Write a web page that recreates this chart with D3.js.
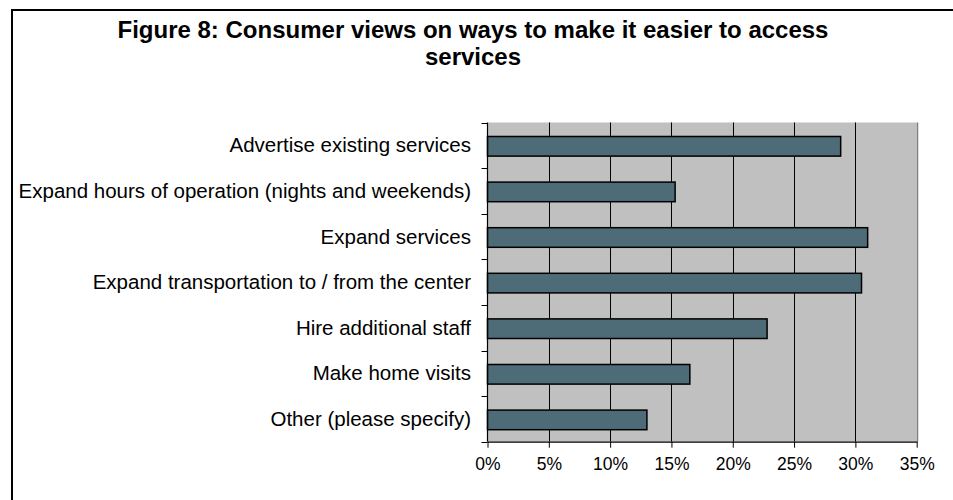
<!DOCTYPE html>
<html>
<head>
<meta charset="utf-8">
<script src="https://cdn.jsdelivr.net/npm/d3@7"></script>
<style>
  html, body { margin: 0; padding: 0; background: #ffffff; }
  svg { display: block; font-family: "Liberation Sans", Arial, sans-serif; }
</style>
</head>
<body>
<svg id="chart" width="953" height="500"></svg>
<script>
// Survey responses: share of consumers choosing each option
const categories = [
  "Advertise existing services",
  "Expand hours of operation (nights and weekends)",
  "Expand services",
  "Expand transportation to / from the center",
  "Hire additional staff",
  "Make home visits",
  "Other (please specify)"
];
const shares = [0.288, 0.153, 0.310, 0.305, 0.228, 0.165, 0.130];
const tickValues = [0, 0.05, 0.10, 0.15, 0.20, 0.25, 0.30, 0.35];
const titleLines = ["Figure 8: Consumer views on ways to make it easier to access", "services"];

const svg = d3.select("#chart");

// outer chart frame
svg.append("rect")
  .attr("x", 12).attr("y", 10)
  .attr("width", 960).attr("height", 520)
  .attr("fill", "#ffffff")
  .attr("stroke", "#000000")
  .attr("stroke-width", 2);

const plot = { left: 487.5, right: 916.7, top: 122.5, bottom: 441.7 };

const x = d3.scaleLinear().domain([0, 0.35]).range([plot.left, plot.right]);
const y = d3.scaleBand().domain(categories).range([plot.top, plot.bottom])
  .paddingInner(0.57).paddingOuter(0.285);
const yTicks = d3.scaleBand().domain(categories).range([plot.top, plot.bottom]);

// plot background
svg.append("rect")
  .attr("x", plot.left).attr("y", plot.top)
  .attr("width", plot.right - plot.left).attr("height", plot.bottom - plot.top)
  .attr("fill", "#c0c0c0");

// vertical gridlines
svg.append("g")
  .selectAll("line")
  .data(tickValues.slice(1, -1))
  .join("line")
  .attr("x1", d => Math.round(x(d)) + 0.5).attr("x2", d => Math.round(x(d)) + 0.5)
  .attr("y1", plot.top).attr("y2", plot.bottom)
  .attr("stroke", "#000000")
  .attr("stroke-width", 1);

// right edge of the plot area
svg.append("line")
  .attr("x1", Math.round(plot.right) + 0.5).attr("x2", Math.round(plot.right) + 0.5)
  .attr("y1", plot.top).attr("y2", plot.bottom)
  .attr("stroke", "#808080").attr("stroke-width", 1.5);

// bars
svg.append("g")
  .selectAll("rect")
  .data(categories)
  .join("rect")
  .attr("x", x(0))
  .attr("y", d => y(d) + 1)
  .attr("width", (d, i) => x(shares[i]) - x(0))
  .attr("height", y.bandwidth())
  .attr("fill", "#4d6c77")
  .attr("stroke", "#000000")
  .attr("stroke-width", 1.5);

// y axis: ticks at category boundaries, labels centred in each band
const yAxisG = svg.append("g");
yAxisG.append("line")
  .attr("x1", plot.left).attr("x2", plot.left)
  .attr("y1", plot.top).attr("y2", plot.bottom)
  .attr("stroke", "#000000").attr("stroke-width", 1.2);
const boundaries = categories.map(c => yTicks(c)).concat([plot.bottom]);
yAxisG.selectAll("line.tick")
  .data(boundaries)
  .join("line")
  .attr("class", "tick")
  .attr("x1", plot.left - 6).attr("x2", plot.left)
  .attr("y1", d => Math.round(d) + 0.5).attr("y2", d => Math.round(d) + 0.5)
  .attr("stroke", "#000000").attr("stroke-width", 1);
yAxisG.selectAll("text")
  .data(categories)
  .join("text")
  .attr("x", 471)
  .attr("y", d => yTicks(d) + yTicks.bandwidth() / 2)
  .attr("dy", "0.35em")
  .attr("text-anchor", "end")
  .attr("font-size", 20.5)
  .attr("fill", "#000000")
  .text(d => d);

// x axis
const xAxis = d3.axisBottom(x)
  .tickValues(tickValues)
  .tickFormat(d3.format(".0%"))
  .tickSize(6)
  .tickSizeOuter(0)
  .tickPadding(10);
const xAxisG = svg.append("g")
  .attr("transform", `translate(0,${plot.bottom})`)
  .call(xAxis);
xAxisG.select(".domain").attr("stroke", "#000000").attr("stroke-width", 1.2);
xAxisG.selectAll(".tick line").attr("stroke", "#000000");
xAxisG.selectAll(".tick text")
  .attr("font-size", 17.5)
  .attr("font-family", "Liberation Sans, Arial, sans-serif")
  .attr("fill", "#000000");

// title
svg.append("g")
  .selectAll("text")
  .data(titleLines)
  .join("text")
  .attr("x", 473)
  .attr("y", (d, i) => 38 + i * 27)
  .attr("text-anchor", "middle")
  .attr("font-size", 24)
  .attr("font-weight", "bold")
  .attr("fill", "#000000")
  .text(d => d);
</script>
</body>
</html>
